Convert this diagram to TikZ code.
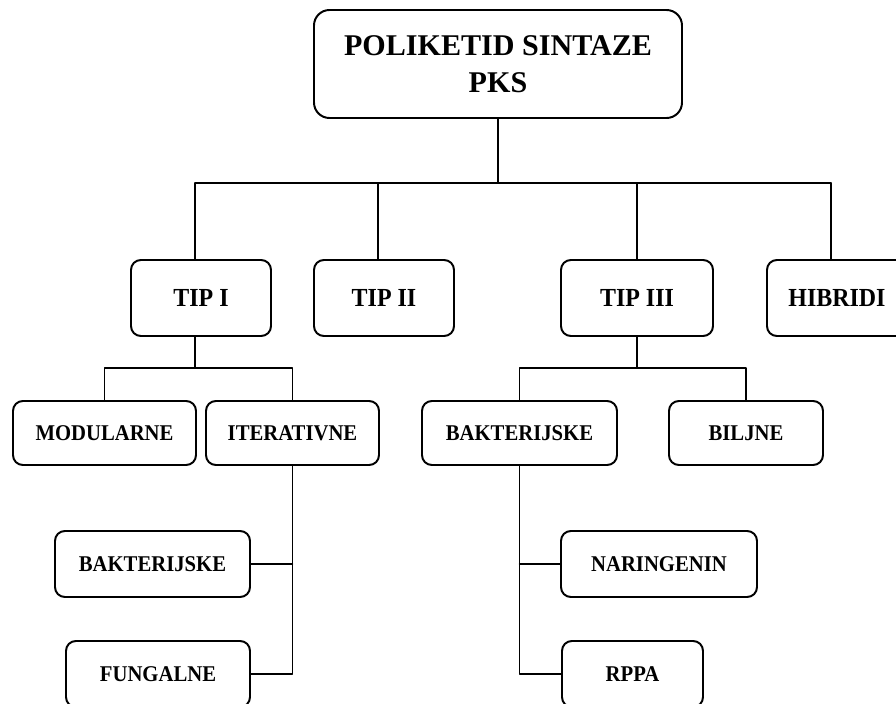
\documentclass[tikz,border=0pt]{standalone}
\usepackage{fontspec}
\setmainfont{Liberation Serif}
\newfontfamily\narrowserif[FakeStretch=0.92]{Liberation Serif}
\usetikzlibrary{positioning, calc}

\begin{document}
\begin{tikzpicture}[x=0.025cm, y=-0.025cm, line join=round, line cap=round,
    box/.style={draw, line width=1.4pt, rounded corners=7pt, align=center,
      inner sep=0pt, font=\narrowserif\bfseries\fontsize{16}{19}\selectfont},
    link/.style={line width=1pt}]
    \useasboundingbox (0,0) rectangle (896,704);
    \clip (0,0) rectangle (896,704);
    % root
    \node[box, rounded corners=11pt, minimum width=368*0.025cm, minimum height=108*0.025cm,
      font=\bfseries\fontsize{21.4}{26}\selectfont] (pks) at (498,64) {POLIKETID SINTAZE\\PKS};
    % level 1
    \foreach \n/\x/\w/\t in {tip1/201/140/TIP I, tip2/384/140/TIP II, tip3/637/152/TIP III, hib/837/140/HIBRIDI} {
      \node[box, minimum width=\w*0.025cm, minimum height=76*0.025cm,
        font=\narrowserif\bfseries\fontsize{18.5}{22}\selectfont] (\n) at (\x,298) {\t};
    }
    % level 2
    \foreach \n/\x/\w/\t in {modul/104.5/183/MODULARNE, iter/292.5/173/ITERATIVNE, bakt3/519.5/195/BAKTERIJSKE, bilj/746/154/BILJNE} {
      \node[box, minimum width=\w*0.025cm, minimum height=64*0.025cm] (\n) at (\x,433) {\t};
    }
    % level 3
    \node[box, minimum width=195*0.025cm, minimum height=66*0.025cm] (bakt1) at (152.5,564) {BAKTERIJSKE};
    \node[box, minimum width=184*0.025cm, minimum height=66*0.025cm] (fung) at (158,674) {FUNGALNE};
    \node[box, minimum width=196*0.025cm, minimum height=66*0.025cm] (nar) at (659,564) {NARINGENIN};
    \node[box, minimum width=141*0.025cm, minimum height=66*0.025cm] (rppa) at (632.5,674) {RPPA};
    % bus lines
    \coordinate (d1) at (195,183);
    \coordinate (d2) at (378,183);
    \coordinate (d3) at (637,183);
    \coordinate (d4) at (831,183);
    \draw[link] (pks.south) -- (pks.south |- d1);
    \draw[link] (d1) -- (d4);
    \foreach \d/\n in {d1/tip1, d2/tip2, d3/tip3, d4/hib} {
      \draw[link] (\d) -- (\d |- \n.north);
    }
    \coordinate (e1) at (195,368);
    \coordinate (e2) at (637,368);
    \draw[link] (e1 |- tip1.south) -- (e1);
    \draw[link] (modul.north) |- (e1) -| (iter.north);
    \draw[link] (tip3.south) -- (e2);
    \draw[link] (bakt3.north) |- (e2) -| (bilj.north);
    \draw[link] (iter.south) |- (fung.east);
    \draw[link] (bakt1.east) -- (bakt1.east -| iter.south);
    \draw[link] (bakt3.south) |- (rppa.west);
    \draw[link] (nar.west) -- (nar.west -| bakt3.south);
\end{tikzpicture}
\end{document}
